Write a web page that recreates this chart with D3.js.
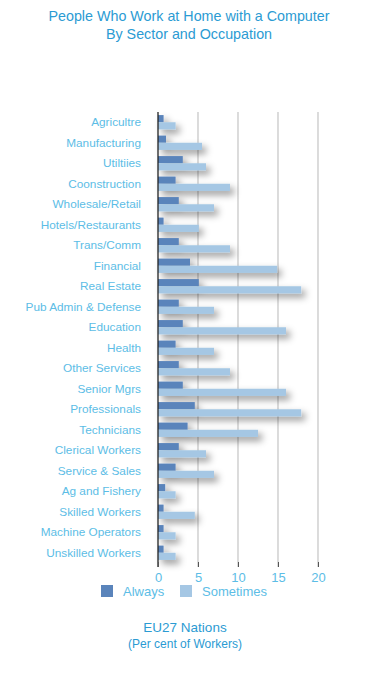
<!DOCTYPE html>
<html>
<head>
    <script src="https://cdn.jsdelivr.net/npm/d3@7"></script>
</head>

<style>
    body { margin: 0; background: #fff; }
    text { font-family: "Liberation Sans", Arial, sans-serif; }
</style>

<body>
<div id="chart"></div>

<script>

    var categories = ['Agricultre', 'Manufacturing', 'Utiltiies', 'Coonstruction', 'Wholesale/Retail',
        'Hotels/Restaurants', 'Trans/Comm', 'Financial', 'Real Estate', 'Pub Admin & Defense',
        'Education', 'Health', 'Other Services', 'Senior Mgrs', 'Professionals', 'Technicians',
        'Clerical Workers', 'Service & Sales', 'Ag and Fishery', 'Skilled Workers',
        'Machine Operators', 'Unskilled Workers'];

    var always    = [0.7, 1.0, 3.1, 2.2, 2.6, 0.7, 2.6, 4.0, 5.1, 2.6, 3.1, 2.2, 2.6, 3.1, 4.6, 3.7, 2.6, 2.2, 0.9, 0.7, 0.7, 0.7];
    var sometimes = [2.2, 5.5, 6.0, 9.0, 7.0, 5.1, 9.0, 14.9, 17.9, 7.0, 16.0, 7.0, 9.0, 16.0, 17.9, 12.5, 6.0, 7.0, 2.2, 4.6, 2.2, 2.2];

    var seriesNames = ['Always', 'Sometimes'];
    var tickValues = [0, 5, 10, 15, 20];

    var width = 378, height = 686;
    var colors = { Always: '#5a84bb', Sometimes: '#a5c7e4' };
    var labelColor = '#5cbde6';
    var titleColor = '#2b9bd3';

    var svg = d3.select('#chart').append('svg')
        .attr('width', width)
        .attr('height', height);

    var defs = svg.append('defs');
    defs.append('filter')
        .attr('id', 'shadow')
        .attr('x', '-20%').attr('y', '-60%')
        .attr('width', '150%').attr('height', '260%')
        .append('feDropShadow')
        .attr('dx', 4).attr('dy', 4)
        .attr('stdDeviation', 3.5)
        .attr('flood-color', '#000')
        .attr('flood-opacity', 0.4);

    // title
    var title = svg.append('text')
        .attr('x', 189)
        .attr('text-anchor', 'middle')
        .attr('fill', titleColor)
        .style('font-size', '14.3px');
    title.append('tspan').attr('x', 189).attr('y', 21).text('People Who Work at Home with a Computer');
    title.append('tspan').attr('x', 189).attr('y', 39).text('By Sector and Occupation');

    var xScale = d3.scaleLinear()
        .domain([0, 20])
        .range([158, 318]);

    var yScale = d3.scaleBand()
        .domain(categories)
        .range([112, 563])
        .paddingInner(0.3)
        .paddingOuter(0.15);

    var ySub = d3.scaleBand()
        .domain(seriesNames)
        .range([0, yScale.bandwidth()]);

    // grid lines
    svg.append('g')
        .selectAll('line')
        .data(tickValues.slice(1))
        .enter()
        .append('line')
        .attr('x1', function(d) { return xScale(d); })
        .attr('x2', function(d) { return xScale(d); })
        .attr('y1', 112)
        .attr('y2', 567)
        .attr('stroke', '#c4c4c4')
        .attr('stroke-width', 1.2);

    // bars
    var rows = categories.map(function(c, i) {
        return { cat: c, values: [
            { name: 'Always', value: always[i] },
            { name: 'Sometimes', value: sometimes[i] }
        ] };
    });

    var groups = svg.append('g')
        .attr('filter', 'url(#shadow)')
        .selectAll('g')
        .data(rows)
        .enter()
        .append('g')
        .attr('transform', function(d) { return 'translate(0,' + yScale(d.cat) + ')'; });

    groups.selectAll('rect')
        .data(function(d) { return d.values; })
        .enter()
        .append('rect')
        .attr('x', xScale(0))
        .attr('y', function(d) { return ySub(d.name); })
        .attr('width', function(d) { return xScale(d.value) - xScale(0); })
        .attr('height', ySub.bandwidth())
        .attr('fill', function(d) { return colors[d.name]; });

    // zero line
    svg.append('line')
        .attr('x1', xScale(0)).attr('x2', xScale(0))
        .attr('y1', 112).attr('y2', 567)
        .attr('stroke', '#222')
        .attr('stroke-width', 1.3);

    // category labels
    svg.append('g')
        .selectAll('text')
        .data(categories)
        .enter()
        .append('text')
        .attr('x', 141)
        .attr('y', function(d) { return yScale(d) + yScale.bandwidth() / 2 + 4; })
        .attr('text-anchor', 'end')
        .attr('fill', labelColor)
        .style('font-size', '11.8px')
        .text(function(d) { return d; });

    // x axis
    var xAxis = d3.axisBottom(xScale)
        .tickValues(tickValues)
        .tickSize(5)
        .tickPadding(6);

    var ax = svg.append('g')
        .attr('transform', 'translate(0,562)')
        .call(xAxis);
    ax.select('.domain').remove();
    ax.selectAll('.tick line').attr('stroke', '#555');
    ax.selectAll('.tick text')
        .attr('fill', labelColor)
        .style('font-size', '13px')
        .style('font-family', '"Liberation Sans", Arial, sans-serif');

    // legend
    var legend = svg.append('g')
        .selectAll('g')
        .data(seriesNames)
        .enter()
        .append('g')
        .attr('transform', function(d, i) { return 'translate(' + (101 + i * 79) + ',585)'; });

    legend.append('rect')
        .attr('width', 12).attr('height', 12)
        .attr('fill', function(d) { return colors[d]; });

    legend.append('text')
        .attr('x', 22).attr('y', 11)
        .attr('fill', labelColor)
        .style('font-size', '13px')
        .text(function(d) { return d; });

    // footer
    svg.append('text')
        .attr('x', 185).attr('y', 632)
        .attr('text-anchor', 'middle')
        .attr('fill', titleColor)
        .style('font-size', '13.5px')
        .text('EU27 Nations');

    svg.append('text')
        .attr('x', 185).attr('y', 648)
        .attr('text-anchor', 'middle')
        .attr('fill', titleColor)
        .style('font-size', '12px')
        .text('(Per cent of Workers)');

</script>
</body>
</html>
